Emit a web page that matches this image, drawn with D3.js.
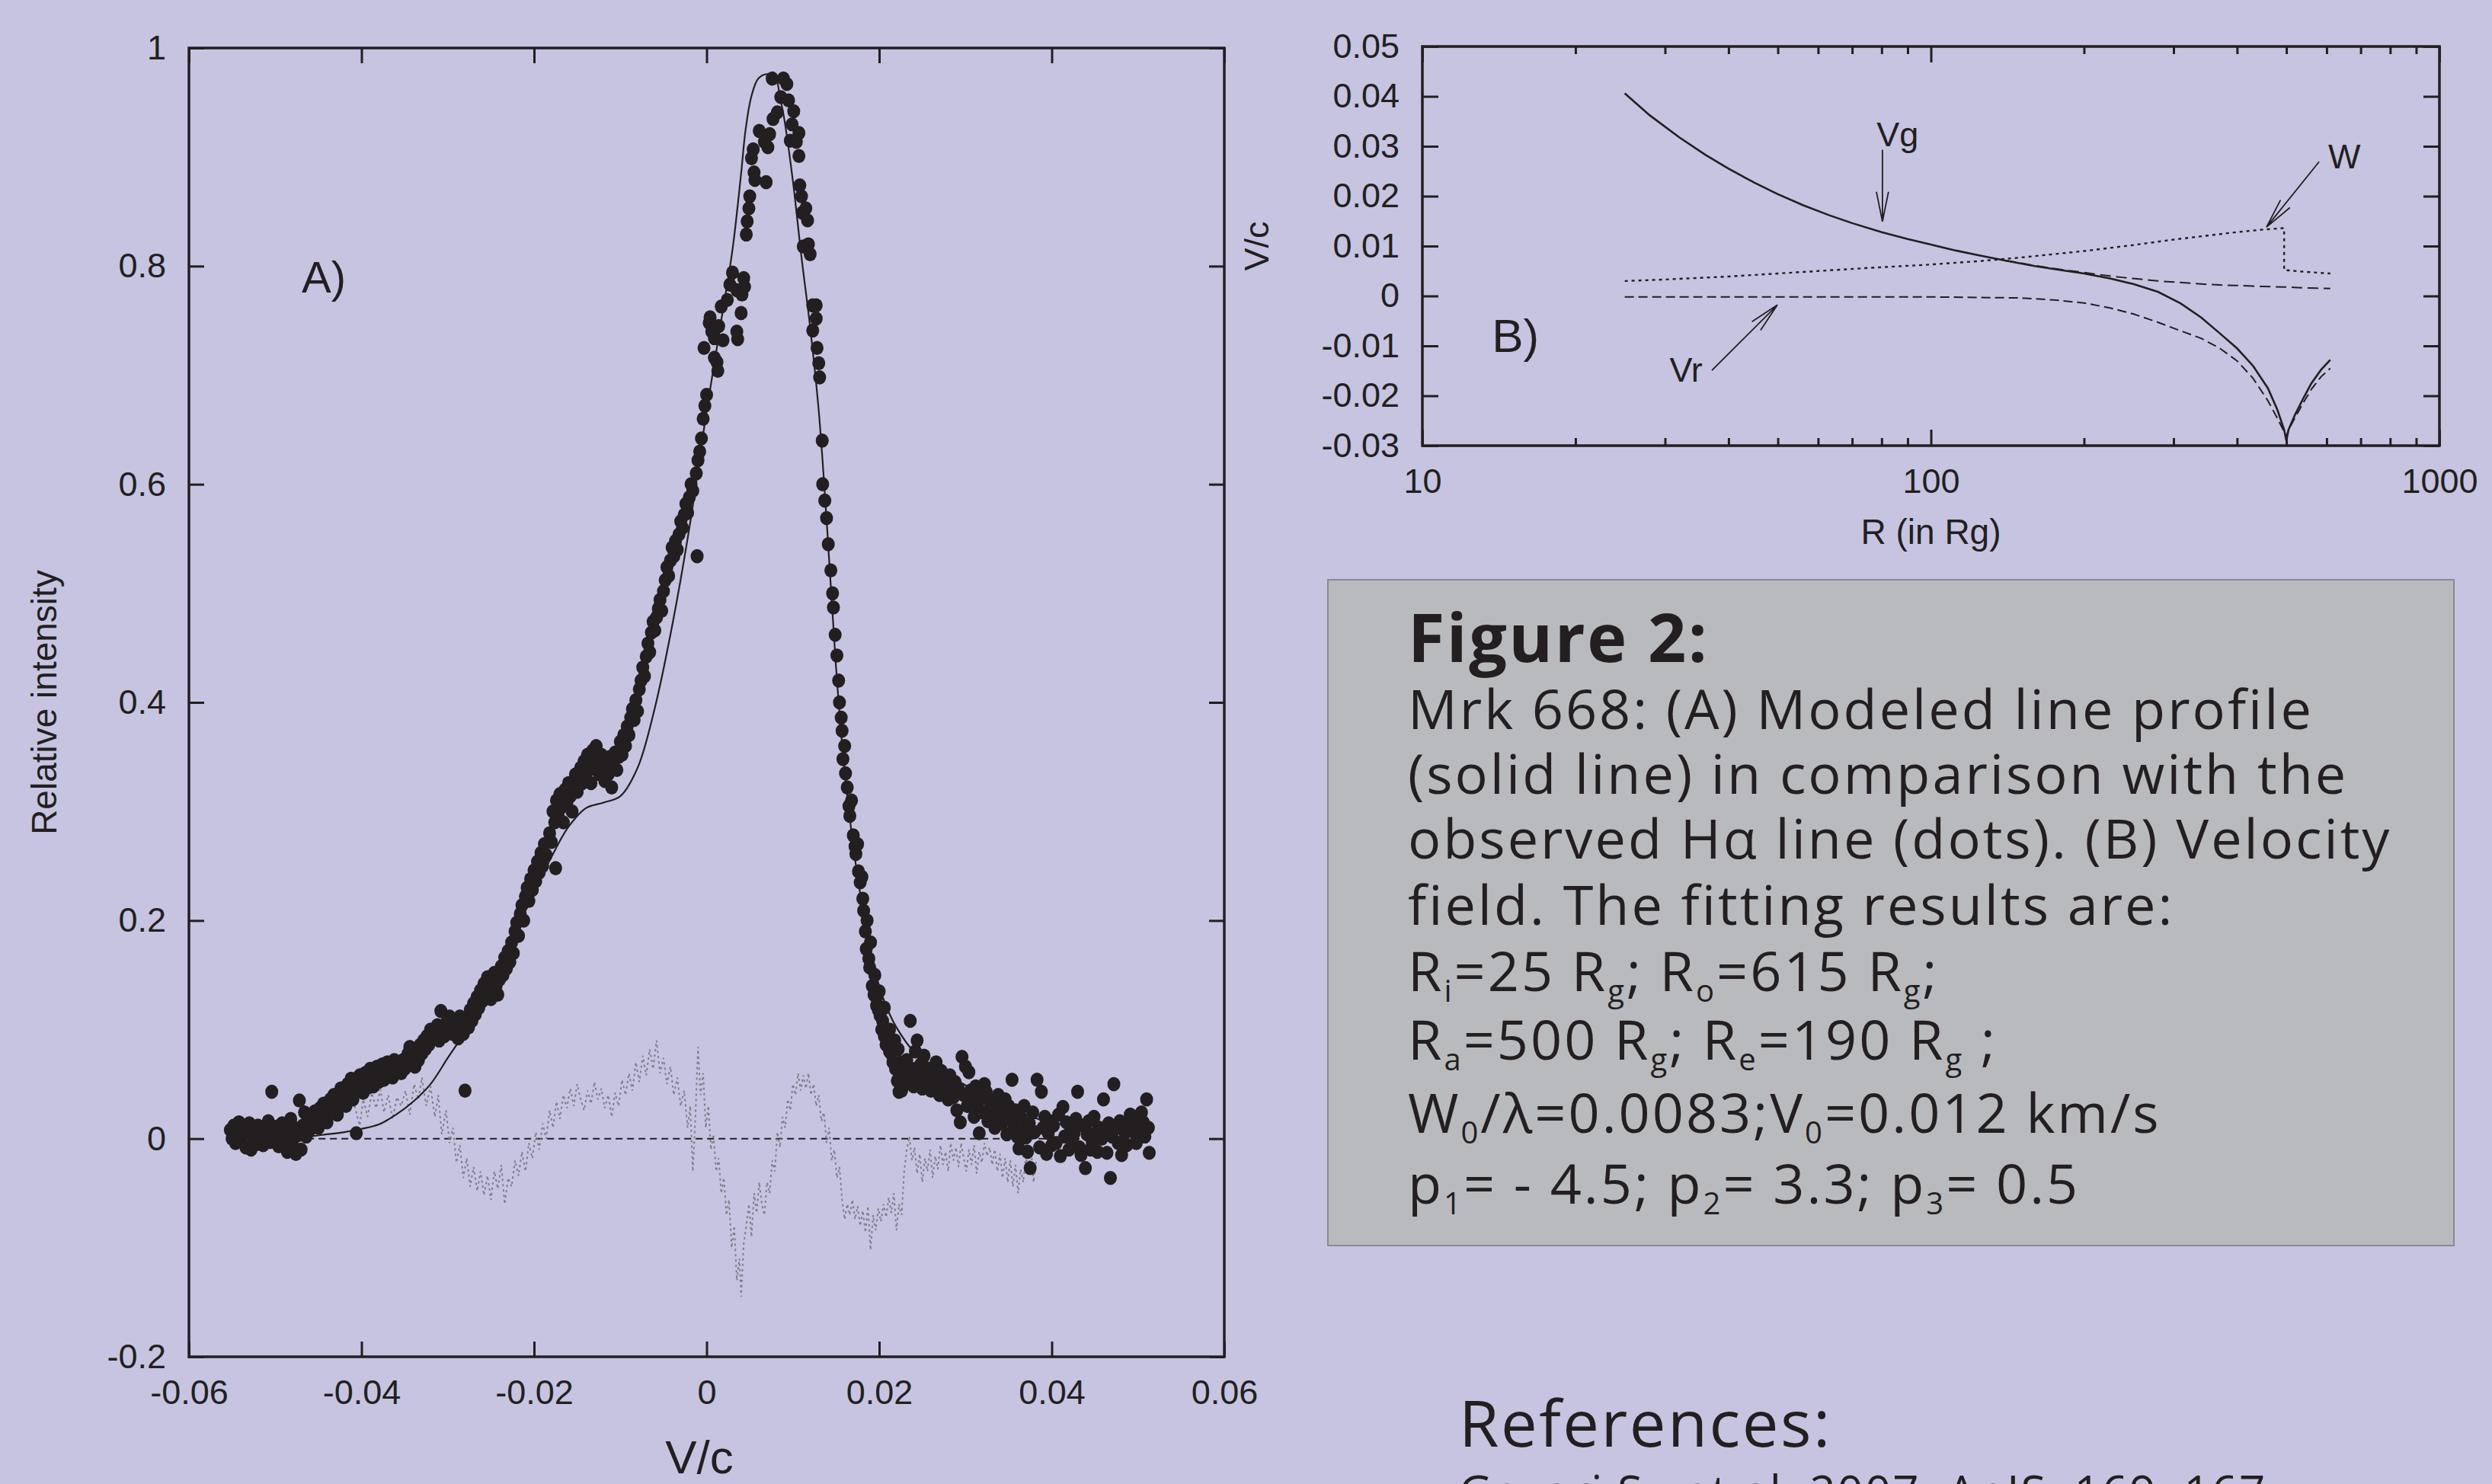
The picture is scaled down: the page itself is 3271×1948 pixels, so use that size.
<!DOCTYPE html>
<html><head><meta charset="utf-8">
<script src="https://cdn.jsdelivr.net/npm/d3@7"></script>
<style>html,body{margin:0;padding:0;background:#c6c4e1;} svg{display:block}</style>
</head><body>
<script>
// ---------------- DATA ----------------
// Panel A: observed H-alpha profile (dots): [V/c, relative intensity]
const obsPoints = [
[-0.0552,0.008],[-0.0550,0.000],[-0.0548,0.012],[-0.0546,-0.004],[-0.0544,0.006],[-0.0542,0.015],[-0.0540,-0.002],[-0.0538,0.003],[-0.0536,0.010],[-0.0534,-0.008],
[-0.0532,0.005],[-0.0530,0.014],[-0.0528,-0.010],[-0.0526,0.002],[-0.0524,0.008],[-0.0522,-0.005],[-0.0520,0.012],[-0.0518,0.000],[-0.0516,0.006],[-0.0514,-0.006],
[-0.0512,0.010],[-0.0510,0.003],[-0.0508,0.016],[-0.0506,-0.003],[-0.0504,0.043],[-0.0502,0.008],[-0.0500,0.001],[-0.0498,0.011],[-0.0496,-0.007],[-0.0494,0.005],
[-0.0492,0.014],[-0.0490,-0.002],[-0.0488,0.008],[-0.0486,-0.012],[-0.0484,0.004],[-0.0482,0.018],[-0.0480,-0.006],[-0.0478,0.010],[-0.0476,-0.014],[-0.0474,0.003],
[-0.0472,0.035],[-0.0470,-0.010],[-0.0468,0.012],[-0.0466,0.024],[-0.0464,0.002],[-0.0462,0.015],[-0.0460,0.008],[-0.0458,0.020],[-0.0456,0.012],[-0.0454,0.025],
[-0.0452,0.018],[-0.0450,0.010],[-0.0448,0.028],[-0.0446,0.020],[-0.0444,0.032],[-0.0442,0.024],[-0.0440,0.015],[-0.0438,0.030],[-0.0436,0.036],[-0.0434,0.026],
[-0.0432,0.040],[-0.0430,0.033],[-0.0428,0.022],[-0.0426,0.038],[-0.0424,0.046],[-0.0422,0.035],[-0.0420,0.043],[-0.0418,0.030],[-0.0416,0.050],[-0.0414,0.040],
[-0.0412,0.055],[-0.0410,0.036],[-0.0408,0.048],[-0.0406,0.005],[-0.0404,0.045],[-0.0402,0.058],[-0.0400,0.050],[-0.0398,0.042],[-0.0396,0.060],[-0.0394,0.052],
[-0.0392,0.047],[-0.0390,0.064],[-0.0388,0.055],[-0.0386,0.048],[-0.0384,0.060],[-0.0382,0.066],[-0.0380,0.052],[-0.0378,0.058],[-0.0376,0.068],[-0.0374,0.054],
[-0.0372,0.062],[-0.0370,0.070],[-0.0368,0.058],[-0.0366,0.064],[-0.0364,0.056],[-0.0362,0.072],[-0.0360,0.062],[-0.0356,0.066],[-0.0354,0.060],[-0.0352,0.072],
[-0.0350,0.064],[-0.0348,0.070],[-0.0346,0.078],[-0.0344,0.084],[-0.0342,0.068],[-0.0340,0.074],[-0.0338,0.066],[-0.0336,0.080],[-0.0334,0.072],[-0.0332,0.086],
[-0.0330,0.078],[-0.0328,0.090],[-0.0326,0.082],[-0.0324,0.094],[-0.0322,0.086],[-0.0320,0.100],[-0.0318,0.092],[-0.0314,0.098],[-0.0312,0.104],[-0.0310,0.090],
[-0.0308,0.117],[-0.0306,0.100],[-0.0304,0.094],[-0.0302,0.106],[-0.0300,0.098],[-0.0298,0.112],[-0.0296,0.104],[-0.0294,0.096],[-0.0292,0.108],[-0.0290,0.100],
[-0.0288,0.092],[-0.0286,0.112],[-0.0284,0.104],[-0.0282,0.096],[-0.0280,0.044],[-0.0278,0.110],[-0.0276,0.102],[-0.0274,0.118],[-0.0272,0.108],[-0.0270,0.124],
[-0.0268,0.114],[-0.0266,0.130],[-0.0264,0.120],[-0.0262,0.136],[-0.0260,0.126],[-0.0258,0.142],[-0.0256,0.132],[-0.0254,0.148],[-0.0252,0.136],[-0.0250,0.128],
[-0.0248,0.144],[-0.0246,0.152],[-0.0244,0.140],[-0.0242,0.132],[-0.0240,0.146],[-0.0238,0.158],[-0.0236,0.150],[-0.0234,0.166],[-0.0232,0.156],[-0.0230,0.172],
[-0.0228,0.162],[-0.0226,0.180],[-0.0224,0.170],[-0.0222,0.190],[-0.0220,0.198],[-0.0218,0.186],[-0.0216,0.206],[-0.0214,0.214],[-0.0212,0.200],[-0.0210,0.222],
[-0.0208,0.230],[-0.0206,0.218],[-0.0204,0.238],[-0.0202,0.228],[-0.0200,0.246],[-0.0198,0.236],[-0.0196,0.254],[-0.0194,0.244],[-0.0192,0.262],[-0.0190,0.250],
[-0.0188,0.270],[-0.0186,0.260],[-0.0182,0.280],[-0.0180,0.272],[-0.0178,0.300],[-0.0176,0.290],[-0.0175,0.248],[-0.0174,0.310],[-0.0172,0.296],[-0.0170,0.316],
[-0.0168,0.304],[-0.0166,0.290],[-0.0164,0.320],[-0.0162,0.308],[-0.0160,0.326],[-0.0158,0.314],[-0.0156,0.300],[-0.0154,0.322],[-0.0152,0.334],[-0.0150,0.318],
[-0.0148,0.328],[-0.0146,0.340],[-0.0144,0.326],[-0.0142,0.346],[-0.0140,0.334],[-0.0138,0.352],[-0.0136,0.338],[-0.0134,0.326],[-0.0132,0.356],[-0.0130,0.342],
[-0.0128,0.360],[-0.0126,0.348],[-0.0124,0.334],[-0.0122,0.352],[-0.0120,0.340],[-0.0118,0.328],[-0.0116,0.346],[-0.0114,0.334],[-0.0112,0.350],[-0.0110,0.322],
[-0.0108,0.340],[-0.0106,0.354],[-0.0104,0.338],[-0.0102,0.350],[-0.0100,0.364],[-0.0098,0.352],[-0.0096,0.370],[-0.0094,0.360],[-0.0092,0.378],[-0.0090,0.370],
[-0.0088,0.386],[-0.0086,0.394],[-0.0084,0.384],[-0.0082,0.402],[-0.0080,0.392],[-0.0078,0.412],[-0.0076,0.420],[-0.0074,0.432],[-0.0072,0.424],[-0.0070,0.442],
[-0.0068,0.454],[-0.0066,0.446],[-0.0064,0.464],[-0.0062,0.474],[-0.0060,0.466],[-0.0058,0.478],[-0.0056,0.486],[-0.0054,0.494],[-0.0052,0.484],[-0.0050,0.502],
[-0.0048,0.512],[-0.0046,0.524],[-0.0044,0.516],[-0.0042,0.530],[-0.0040,0.542],[-0.0038,0.534],[-0.0036,0.548],[-0.0034,0.540],[-0.0032,0.554],[-0.0030,0.566],
[-0.0028,0.560],[-0.0026,0.572],[-0.0024,0.582],[-0.0022,0.574],[-0.0020,0.588],[-0.0018,0.600],[-0.0016,0.594],[-0.0012,0.610],[-0.0011,0.534],[-0.0010,0.622],
[-0.0008,0.630],[-0.0006,0.642],[-0.0004,0.660],[-0.0003,0.725],[-0.0002,0.672],[0.0000,0.682],
[0.0003,0.748],[0.0004,0.753],[0.0006,0.740],[0.0009,0.734],[0.0009,0.716],[0.0012,0.712],[0.0013,0.704],[0.0014,0.745],[0.0017,0.763],[0.0019,0.732],
[0.0024,0.769],[0.0027,0.783],[0.0030,0.794],[0.0035,0.778],[0.0035,0.740],[0.0036,0.733],[0.0040,0.757],[0.0041,0.774],[0.0043,0.789],[0.0044,0.781],
[0.0046,0.829],[0.0047,0.841],[0.0049,0.853],[0.0050,0.864],[0.0052,0.899],[0.0054,0.907],[0.0055,0.886],[0.0056,0.879],[0.0061,0.924],[0.0067,0.914],
[0.0069,0.877],[0.0071,0.909],[0.0073,0.921],[0.0076,0.972],[0.0077,0.935],[0.0082,0.941],[0.0086,0.955],[0.0089,0.972],[0.0093,0.967],[0.0095,0.952],
[0.0097,0.915],[0.0099,0.930],[0.0101,0.942],[0.0104,0.914],[0.0107,0.922],[0.0107,0.901],[0.0108,0.874],[0.0110,0.864],[0.0111,0.849],[0.0112,0.818],
[0.0115,0.853],[0.0117,0.842],[0.0118,0.820],[0.0120,0.811],[0.0123,0.764],[0.0127,0.764],[0.0127,0.752],[0.0123,0.741],[0.0128,0.725],[0.0130,0.711],
[0.0131,0.698],[0.0134,0.640],[0.01345,0.600],[0.0137,0.585],[0.0139,0.569],[0.0141,0.545],[0.0144,0.521],[0.0146,0.500],[0.0147,0.487],[0.0149,0.462],
[0.0151,0.443],[0.0153,0.420],[0.0154,0.400],[0.0156,0.386],[0.0157,0.374],[0.0158,0.348],[0.0160,0.360],[0.0161,0.335],[0.0163,0.322],[0.0165,0.305],
[0.0166,0.296],[0.0168,0.310],[0.0170,0.278],[0.0172,0.268],[0.0173,0.261],[0.0175,0.270],[0.0176,0.245],[0.0178,0.235],[0.0180,0.240],[0.0181,0.220],
[0.0182,0.209],[0.0184,0.190],[0.0185,0.174],[0.0186,0.200],[0.0188,0.165],[0.0189,0.157],[0.0190,0.180],[0.0192,0.140],[0.0194,0.132],[0.0195,0.150],
[0.0197,0.122],[0.0197,0.129],[0.0199,0.118],[0.0200,0.135],[0.0201,0.113],[0.0203,0.100],[0.0204,0.108],[0.0206,0.094],[0.0206,0.120],[0.0208,0.086],
[0.0210,0.092],[0.0212,0.100],[0.0212,0.080],[0.0214,0.078],[0.0216,0.070],[0.0218,0.090],[0.0219,0.064],[0.0221,0.053],[0.0222,0.082],[0.0223,0.043],
[0.0225,0.070],[0.0226,0.044],[0.0227,0.061],
[0.0228,0.060],[0.0230,0.050],[0.0232,0.072],[0.0234,0.056],[0.0236,0.108],[0.0238,0.064],[0.0240,0.048],[0.0242,0.080],[0.0244,0.090],[0.0246,0.058],
[0.0248,0.068],[0.0250,0.046],[0.0252,0.076],[0.0254,0.054],[0.0256,0.052],[0.0258,0.064],[0.0260,0.044],[0.0262,0.058],[0.0264,0.048],[0.0266,0.070],
[0.0268,0.050],[0.0270,0.040],[0.0272,0.062],[0.0274,0.046],[0.0276,0.054],[0.0278,0.047],[0.0280,0.036],[0.0282,0.058],[0.0284,0.044],[0.0286,0.038],
[0.0288,0.052],[0.0290,0.026],[0.0292,0.046],[0.0294,0.015],[0.0296,0.075],[0.0298,0.040],[0.0300,0.066],[0.0302,0.030],[0.0304,0.061],[0.0306,0.044],
[0.0308,0.036],[0.0310,0.020],[0.0312,0.048],[0.0314,0.030],[0.0316,0.005],[0.0318,0.038],[0.0320,0.024],[0.0322,0.050],[0.0324,0.043],[0.0326,0.016],
[0.0328,0.034],[0.0330,0.026],[0.0332,0.031],[0.0334,0.010],[0.0336,0.020],[0.0338,0.040],[0.0340,0.028],[0.0342,0.014],[0.0344,0.024],[0.0346,0.036],
[0.0348,0.004],[0.0350,0.030],[0.0352,0.018],[0.0354,0.054],[0.0356,0.010],[0.0358,0.026],[0.0360,0.002],[0.0362,-0.009],[0.0364,0.020],[0.0366,0.008],
[0.0368,0.030],[0.0370,0.001],[0.0372,-0.012],[0.0374,0.014],[0.0375,-0.027],[0.0378,0.024],[0.0380,0.006],[0.0383,0.054],[0.0386,-0.008],[0.0388,0.043],
[0.0390,0.010],[0.0392,0.020],[0.0394,-0.014],[0.0396,0.005],[0.0398,0.016],[0.0400,-0.006],[0.0402,0.012],[0.0405,-0.004],[0.0408,0.022],[0.0410,-0.016],
[0.0413,0.029],[0.0415,0.002],[0.0417,0.015],[0.0420,-0.010],[0.0422,0.010],[0.0424,0.000],[0.0426,0.005],[0.0428,0.018],[0.0430,0.043],[0.0432,-0.008],
[0.0434,-0.015],[0.0436,0.012],[0.0439,-0.027],[0.0441,0.004],[0.0443,0.016],[0.0445,-0.010],[0.0447,-0.004],[0.0449,0.020],[0.0451,0.005],[0.0453,-0.012],
[0.0455,0.010],[0.0458,0.000],[0.0460,0.036],[0.0462,0.008],[0.0464,-0.013],[0.0466,0.014],[0.0468,-0.036],[0.0470,0.002],[0.0472,0.050],[0.0474,0.010],
[0.0477,-0.004],[0.0479,0.016],[0.0481,-0.015],[0.0483,0.008],[0.0485,0.005],[0.0487,-0.006],[0.0489,0.012],[0.0491,0.022],[0.0494,0.020],[0.0496,0.006],
[0.0498,-0.004],[0.0500,0.014],[0.0502,0.005],[0.0504,0.024],[0.0506,0.015],[0.0508,0.002],[0.0510,0.036],[0.0512,0.010],[0.0513,-0.013]
];
// Panel A: modeled line profile (solid line)
const modelV = [-0.0480,-0.0460,-0.0440,-0.0420,-0.0400,-0.0380,-0.0360,-0.0340,-0.0320,-0.0300,-0.0280,-0.0260,-0.0240,-0.0220,-0.0200,-0.0180,-0.0160,-0.0140,-0.0120,-0.0100,-0.0080,-0.0060,-0.0040,-0.0020,0.0000,0.0010,0.0020,0.0030,0.0040,0.0045,0.0052,0.0060,0.0070,0.0080,0.0085,0.0090,0.0100,0.0110,0.0120,0.0130,0.0140,0.0150,0.0160,0.0170,0.0180,0.0190,0.0200,0.0210,0.0220,0.0240,0.0260,0.0280,0.0300,0.0320,0.0340,0.0360,0.0380,0.0400,0.0420,0.0440,0.0460,0.0480,0.0500,0.0513];
const modelI = [0.000,0.002,0.004,0.006,0.009,0.013,0.022,0.034,0.050,0.074,0.098,0.127,0.158,0.192,0.226,0.258,0.286,0.303,0.308,0.314,0.340,0.395,0.470,0.560,0.667,0.716,0.765,0.815,0.885,0.924,0.956,0.972,0.976,0.972,0.955,0.935,0.878,0.808,0.744,0.667,0.556,0.432,0.336,0.268,0.215,0.173,0.140,0.118,0.102,0.080,0.068,0.058,0.049,0.040,0.032,0.025,0.019,0.015,0.012,0.010,0.008,0.006,0.005,0.004];
// Panel A: residuals (dotted grey line)
const residPoints = [
[-0.0408,0.030],[-0.0402,0.012],[-0.0398,0.036],[-0.0393,0.020],[-0.0388,0.042],[-0.0383,0.028],[-0.0378,0.045],[-0.0374,0.024],[-0.0369,0.040],[-0.0364,0.018],
[-0.0359,0.038],[-0.0354,0.030],[-0.0349,0.044],[-0.0344,0.022],[-0.0339,0.050],[-0.0334,0.036],[-0.0330,0.056],[-0.0325,0.030],[-0.0320,0.048],[-0.0315,0.020],
[-0.0311,0.040],[-0.0307,0.004],[-0.0302,0.026],[-0.0298,-0.004],[-0.0294,0.010],[-0.0290,-0.022],[-0.0286,-0.006],[-0.0282,-0.036],[-0.0278,-0.018],[-0.0274,-0.044],
[-0.0270,-0.026],[-0.0266,-0.048],[-0.0262,-0.030],[-0.0258,-0.052],[-0.0254,-0.034],[-0.0250,-0.056],[-0.0246,-0.030],[-0.0242,-0.046],[-0.0238,-0.024],[-0.0234,-0.060],
[-0.0230,-0.036],[-0.0226,-0.044],[-0.0222,-0.020],[-0.0218,-0.034],[-0.0214,-0.012],[-0.0210,-0.030],[-0.0206,-0.004],[-0.0202,-0.018],[-0.0198,0.006],[-0.0194,-0.010],
[-0.0190,0.014],[-0.0186,0.000],[-0.0182,0.026],[-0.0178,0.010],[-0.0174,0.034],[-0.0170,0.018],[-0.0166,0.040],[-0.0162,0.028],[-0.0158,0.046],[-0.0154,0.030],
[-0.0150,0.050],[-0.0146,0.036],[-0.0142,0.026],[-0.0138,0.044],[-0.0134,0.032],[-0.0130,0.052],[-0.0126,0.036],[-0.0122,0.046],[-0.0118,0.028],[-0.0114,0.040],
[-0.0110,0.020],[-0.0106,0.042],[-0.0102,0.030],[-0.0098,0.054],[-0.0094,0.040],[-0.0090,0.060],[-0.0086,0.044],[-0.0082,0.070],[-0.0078,0.052],[-0.0074,0.076],
[-0.0070,0.058],[-0.0066,0.082],[-0.0062,0.064],[-0.0058,0.090],[-0.0054,0.060],[-0.0050,0.074],[-0.0046,0.050],[-0.0042,0.066],[-0.0038,0.040],[-0.0034,0.056],
[-0.0030,0.030],[-0.0026,0.044],[-0.0022,0.010],[-0.0019,0.030],[-0.0016,-0.030],[-0.0013,0.020],[-0.0010,0.084],[-0.0007,0.040],[-0.0004,0.060],[-0.0001,0.010],
[0.0002,0.030],[0.0005,-0.010],[0.0008,0.004],[0.0011,-0.030],[0.0014,-0.018],[0.0017,-0.050],[0.0020,-0.036],[0.0023,-0.070],[0.0026,-0.056],[0.0029,-0.100],
[0.0032,-0.080],[0.0035,-0.130],[0.0038,-0.110],[0.0040,-0.145],[0.0043,-0.096],[0.0046,-0.080],[0.0049,-0.060],[0.0052,-0.090],[0.0055,-0.050],[0.0058,-0.068],
[0.0061,-0.040],[0.0064,-0.060],[0.0067,-0.070],[0.0070,-0.040],[0.0073,-0.050],[0.0076,-0.020],[0.0079,-0.030],[0.0082,0.006],[0.0085,-0.008],[0.0088,0.020],
[0.0091,0.010],[0.0094,0.036],[0.0097,0.026],[0.0100,0.050],[0.0103,0.040],[0.0106,0.060],[0.0109,0.044],[0.0112,0.058],[0.0115,0.046],[0.0118,0.060],
[0.0121,0.040],[0.0124,0.050],[0.0127,0.030],[0.0130,0.040],[0.0133,0.016],[0.0136,0.024],[0.0139,-0.004],[0.0142,0.010],[0.0145,-0.020],[0.0148,-0.010],
[0.0151,-0.036],[0.0154,-0.026],[0.0157,-0.056],[0.0160,-0.074],[0.0163,-0.060],[0.0166,-0.070],[0.0169,-0.056],[0.0172,-0.074],[0.0175,-0.062],[0.0178,-0.080],
[0.0181,-0.066],[0.0184,-0.086],[0.0187,-0.062],[0.0190,-0.102],[0.0193,-0.070],[0.0196,-0.084],[0.0199,-0.064],[0.0202,-0.076],[0.0205,-0.060],[0.0208,-0.072],
[0.0211,-0.054],[0.0214,-0.068],[0.0217,-0.050],[0.0220,-0.084],[0.0223,-0.060],[0.0226,-0.070],[0.0229,-0.030],[0.0232,-0.010],[0.0235,0.002],[0.0238,-0.020],
[0.0241,-0.008],[0.0244,-0.032],[0.0247,-0.014],[0.0250,-0.040],[0.0253,-0.018],[0.0256,-0.030],[0.0259,-0.010],[0.0262,-0.036],[0.0265,-0.016],[0.0268,-0.028],
[0.0271,-0.006],[0.0274,-0.024],[0.0277,-0.012],[0.0280,-0.030],[0.0283,-0.004],[0.0286,-0.020],[0.0289,-0.008],[0.0292,-0.026],[0.0295,-0.004],[0.0298,-0.018],
[0.0301,-0.030],[0.0304,-0.010],[0.0307,-0.024],[0.0310,-0.006],[0.0313,-0.032],[0.0316,-0.012],[0.0319,-0.022],[0.0322,-0.004],[0.0325,-0.016],[0.0328,-0.008],
[0.0331,-0.024],[0.0334,-0.010],[0.0337,-0.030],[0.0340,-0.014],[0.0343,-0.036],[0.0346,-0.018],[0.0349,-0.040],[0.0352,-0.020],[0.0355,-0.044],[0.0358,-0.024],
[0.0361,-0.050],[0.0364,-0.028],[0.0367,-0.040],[0.0370,-0.016],[0.0373,-0.030],[0.0376,-0.010],[0.0379,-0.040],[0.0382,-0.020]
];
const zeroLineV = [-0.0463, 0.0513];
const xTicksA = [-0.06,-0.04,-0.02,0,0.02,0.04,0.06];
const xTickLabelsA = ["-0.06","-0.04","-0.02","0","0.02","0.04","0.06"];
const yTicksA = [-0.2,0,0.2,0.4,0.6,0.8,1];
const yTickLabelsA = ["-0.2","0","0.2","0.4","0.6","0.8","1"];

// Panel B: velocity field vs radius (R in Rg)
const vgR = [25,28,32,36,40,45,50,56,63,70,80,90,100,112,125,140,160,180,200,225,250,280,310,340,370,400,430,460,480,495,500,505,520,540,560,585,610];
const vgV = [0.0406,0.0362,0.0318,0.0283,0.0255,0.0227,0.0204,0.0182,0.0162,0.0146,0.0128,0.0114,0.0103,0.0091,0.0081,0.0071,0.0060,0.0052,0.0045,0.0035,0.0024,0.0008,-0.0015,-0.0043,-0.0075,-0.0105,-0.0140,-0.0185,-0.0228,-0.0268,-0.0290,-0.0268,-0.0238,-0.0205,-0.0175,-0.0148,-0.0128];
const vrR = [25,40,60,80,100,125,150,175,200,225,250,280,310,340,370,400,430,460,480,495,500,505,520,540,560,585,610];
const vrV = [-0.0002,-0.0002,-0.0002,-0.0002,-0.0002,-0.0003,-0.0004,-0.0008,-0.0014,-0.0024,-0.0036,-0.0053,-0.0070,-0.0085,-0.0105,-0.0130,-0.0165,-0.0210,-0.0245,-0.0272,-0.0282,-0.0268,-0.0244,-0.0214,-0.0187,-0.0162,-0.0145];
const vkR = [140,160,180,200,225,250,280,310,340,370,400,450,500,550,610];
const vkV = [0.0071,0.0061,0.0053,0.0047,0.0040,0.0035,0.0030,0.0027,0.0024,0.0022,0.0021,0.0019,0.0018,0.0016,0.0015];
const wR = [25,30,40,50,60,75,100,125,150,200,250,300,350,400,450,495,495,550,610];
const wV = [0.0030,0.0033,0.0039,0.0045,0.0050,0.0056,0.0063,0.0070,0.0077,0.0090,0.0102,0.0113,0.0121,0.0128,0.0133,0.0136,0.0052,0.0048,0.0045];
const xMajorB = [10,100,1000];
const xMajorLabelsB = ["10","100","1000"];
const xMinorB = [20,30,40,50,60,70,80,90,200,300,400,500,600,700,800,900];
const yTicksB = [-0.03,-0.02,-0.01,0,0.01,0.02,0.03,0.04,0.05];
const yTickLabelsB = ["-0.03","-0.02","-0.01","0","0.01","0.02","0.03","0.04","0.05"];
// Panel B annotations: [label, textR, textV, arrowStartR, arrowStartV, arrowTipR, arrowTipV]
const annotB = [
  ["Vg", 86, 0.0300, 80.3, 0.0293, 80.3, 0.0149],
  ["W", 650, 0.0256, 580, 0.0269, 457, 0.0138],
  ["Vr", 33, -0.0172, 37.1, -0.0149, 49.9, -0.0018]
];

// Caption
const captionTitle = "Figure 2:";
const captionLines = [
  [["Mrk 668: (A) Modeled line profile",0]],
  [["(solid line) in comparison with the",0]],
  [["observed H\u03b1 line (dots). (B) Velocity",0]],
  [["field. The fitting results are:",0]],
  [["R",0],["i",1],["=25 R",0],["g",1],["; R",0],["o",1],["=615 R",0],["g",1],[";",0]],
  [["R",0],["a",1],["=500 R",0],["g",1],["; R",0],["e",1],["=190 R",0],["g",1],[" ;",0]],
  [["W",0],["0",1],["/\u03bb=0.0083;V",0],["0",1],["=0.012 km/s",0]],
  [["p",0],["1",1],["= - 4.5; p",0],["2",1],["= 3.3; p",0],["3",1],["= 0.5",0]]
];
const refTitle = "References:";
const refLine = "Gezari S., et al. 2007, ApJS, 169, 167";

// ---------------- DRAWING ----------------
const W = 3271, H = 1948;
const ink = "#231f20";
const bg = "#c6c4e1";
const tickFont = "'Liberation Sans', Arial, Helvetica, sans-serif";
const svg = d3.select("body").append("svg").attr("width", W).attr("height", H);
svg.append("rect").attr("width", W).attr("height", H).attr("fill", bg);

// ---- Panel A ----
const A = {l:248, r:1607, t:63, b:1781};
const xA = d3.scaleLinear().domain([-0.06,0.06]).range([A.l,A.r]);
const yA = d3.scaleLinear().domain([-0.2,1]).range([A.b,A.t]);
const gA = svg.append("g");

function styleAxis(g, size){
  g.select(".domain").remove();
  g.selectAll(".tick line").attr("stroke", ink).attr("stroke-width", 3);
  g.selectAll(".tick text").attr("fill", ink).attr("font-family", tickFont).attr("font-size", size);
}
const axA_b = gA.append("g").attr("transform",`translate(0,${A.b})`)
  .call(d3.axisBottom(xA).tickValues(xTicksA).tickSize(-20).tickPadding(30).tickFormat((d,i)=>xTickLabelsA[i]));
styleAxis(axA_b, 45);
const axA_t = gA.append("g").attr("transform",`translate(0,${A.t})`)
  .call(d3.axisTop(xA).tickValues(xTicksA).tickSize(-20).tickFormat(""));
styleAxis(axA_t, 45);
const axA_l = gA.append("g").attr("transform",`translate(${A.l},0)`)
  .call(d3.axisLeft(yA).tickValues(yTicksA).tickSize(-20).tickPadding(30).tickFormat((d,i)=>yTickLabelsA[i]));
styleAxis(axA_l, 45);
const axA_r = gA.append("g").attr("transform",`translate(${A.r},0)`)
  .call(d3.axisRight(yA).tickValues(yTicksA).tickSize(-20).tickFormat(""));
styleAxis(axA_r, 45);
gA.append("rect").attr("x",A.l).attr("y",A.t).attr("width",A.r-A.l).attr("height",A.b-A.t)
  .attr("fill","none").attr("stroke",ink).attr("stroke-width",3.5);

// zero dashed line
gA.append("line").attr("x1",xA(zeroLineV[0])).attr("x2",xA(zeroLineV[1])).attr("y1",yA(0)).attr("y2",yA(0))
  .attr("stroke",ink).attr("stroke-width",2).attr("stroke-dasharray","9,6");
// residual dotted line
gA.append("path").datum(residPoints)
  .attr("d", d3.line().x(d=>xA(d[0])).y(d=>yA(d[1])))
  .attr("fill","none").attr("stroke","#807e8c").attr("stroke-width",2).attr("stroke-dasharray","3,4");
// dots
gA.append("g").selectAll("ellipse").data(obsPoints).join("ellipse")
  .attr("cx",d=>xA(d[0])).attr("cy",d=>yA(d[1])).attr("rx",8.5).attr("ry",9.3).attr("fill",ink);
// model line
gA.append("path").datum(d3.zip(modelV, modelI))
  .attr("d", d3.line().x(d=>xA(d[0])).y(d=>yA(d[1])).curve(d3.curveCatmullRom.alpha(0.5)))
  .attr("fill","none").attr("stroke",ink).attr("stroke-width",2.2);

// labels A
gA.append("text").attr("transform",`translate(74,${(A.t+A.b)/2}) rotate(-90)`).attr("text-anchor","middle")
  .attr("font-family",tickFont).attr("font-size",46).attr("fill",ink).text("Relative intensity");
gA.append("text").attr("x",918).attr("y",1934).attr("text-anchor","middle")
  .attr("font-family",tickFont).attr("font-size",62).attr("fill",ink).text("V/c");
gA.append("text").attr("x",396).attr("y",384)
  .attr("font-family",tickFont).attr("font-size",58).attr("fill",ink).text("A)");

// ---- Panel B ----
const B = {l:1867, r:3202, t:61, b:585};
const xB = d3.scaleLog().domain([10,1000]).range([B.l,B.r]);
const yB = d3.scaleLinear().domain([-0.03,0.05]).range([B.b,B.t]);
const gB = svg.append("g");
const axB_b = gB.append("g").attr("transform",`translate(0,${B.b})`)
  .call(d3.axisBottom(xB).tickValues(xMajorB).tickSize(-21).tickPadding(30).tickFormat((d,i)=>xMajorLabelsB[i]));
styleAxis(axB_b, 45);
const axB_bm = gB.append("g").attr("transform",`translate(0,${B.b})`)
  .call(d3.axisBottom(xB).tickValues(xMinorB).tickSize(-10).tickFormat(""));
styleAxis(axB_bm, 45);
const axB_t = gB.append("g").attr("transform",`translate(0,${B.t})`)
  .call(d3.axisTop(xB).tickValues(xMajorB).tickSize(-21).tickFormat(""));
styleAxis(axB_t, 45);
const axB_tm = gB.append("g").attr("transform",`translate(0,${B.t})`)
  .call(d3.axisTop(xB).tickValues(xMinorB).tickSize(-10).tickFormat(""));
styleAxis(axB_tm, 45);
const axB_l = gB.append("g").attr("transform",`translate(${B.l},0)`)
  .call(d3.axisLeft(yB).tickValues(yTicksB).tickSize(-21).tickPadding(30).tickFormat((d,i)=>yTickLabelsB[i]));
styleAxis(axB_l, 45);
const axB_r = gB.append("g").attr("transform",`translate(${B.r},0)`)
  .call(d3.axisRight(yB).tickValues(yTicksB).tickSize(-21).tickFormat(""));
styleAxis(axB_r, 45);
gB.append("rect").attr("x",B.l).attr("y",B.t).attr("width",B.r-B.l).attr("height",B.b-B.t)
  .attr("fill","none").attr("stroke",ink).attr("stroke-width",3.5);

const lineB = d3.line().x(d=>xB(d[0])).y(d=>yB(d[1]));
gB.append("path").datum(d3.zip(vkR,vkV)).attr("d",lineB.curve(d3.curveCatmullRom))
  .attr("fill","none").attr("stroke",ink).attr("stroke-width",2).attr("stroke-dasharray","14,7");
gB.append("path").datum(d3.zip(vrR,vrV)).attr("d",lineB.curve(d3.curveLinear))
  .attr("fill","none").attr("stroke",ink).attr("stroke-width",2).attr("stroke-dasharray","12,6");
gB.append("path").datum(d3.zip(wR,wV)).attr("d",lineB.curve(d3.curveLinear))
  .attr("fill","none").attr("stroke",ink).attr("stroke-width",2.4).attr("stroke-dasharray","4,5");
gB.append("path").datum(d3.zip(vgR,vgV)).attr("d",lineB.curve(d3.curveLinear))
  .attr("fill","none").attr("stroke",ink).attr("stroke-width",2.6);

// annotations with arrows
annotB.forEach(a=>{
  const [lab, tR, tV, sR, sV, eR, eV] = a;
  gB.append("text").attr("x",xB(tR)).attr("y",yB(tV)).attr("text-anchor","middle")
    .attr("font-family",tickFont).attr("font-size",45).attr("fill",ink).text(lab);
  const x1=xB(sR), y1=yB(sV), x2=xB(eR), y2=yB(eV);
  const ang=Math.atan2(y2-y1,x2-x1), L=40, sp=0.2;
  const p = d3.path();
  p.moveTo(x1,y1); p.lineTo(x2,y2);
  p.moveTo(x2-L*Math.cos(ang-sp), y2-L*Math.sin(ang-sp)); p.lineTo(x2,y2);
  p.lineTo(x2-L*Math.cos(ang+sp), y2-L*Math.sin(ang+sp));
  gB.append("path").attr("d",p.toString()).attr("fill","none").attr("stroke",ink).attr("stroke-width",1.8);
});
gB.append("text").attr("x",xB(13.7)).attr("y",yB(-0.0112))
  .attr("font-family",tickFont).attr("font-size",62).attr("fill",ink).text("B)");
gB.append("text").attr("transform",`translate(1665,${(B.t+B.b)/2}) rotate(-90)`).attr("text-anchor","middle")
  .attr("font-family",tickFont).attr("font-size",45).attr("fill",ink).text("V/c");
gB.append("text").attr("x",(B.l+B.r)/2).attr("y",714).attr("text-anchor","middle")
  .attr("font-family",tickFont).attr("font-size",46).attr("fill",ink).text("R (in Rg)");

// ---- Caption box ----
const capFont = "'Open Sans', 'Noto Sans', sans-serif";
svg.append("rect").attr("x",1743).attr("y",761).attr("width",1478).attr("height",874)
  .attr("fill","#b9babe").attr("stroke","#8a8a90").attr("stroke-width",2);
svg.append("text").attr("x",1848).attr("y",869).attr("font-family",capFont).attr("font-weight",700)
  .attr("font-size",88).attr("letter-spacing",2.5).attr("fill",ink).text(captionTitle);
const baselines = [957,1042,1127,1214,1301,1391,1487,1580];
captionLines.forEach((segs,i)=>{
  const t = svg.append("text").attr("x",1848).attr("y",baselines[i]).attr("font-family",capFont)
    .attr("font-size",72).attr("letter-spacing",3).attr("fill",ink);
  let shifted=false;
  segs.forEach(s=>{
    const ts = t.append("tspan").text(s[0]);
    if(s[1]){ ts.attr("font-size",40).attr("dy", shifted?0:14); shifted=true; }
    else { if(shifted){ ts.attr("dy",-14); shifted=false; } }
  });
});
svg.append("text").attr("x",1915).attr("y",1899).attr("font-family",capFont)
  .attr("font-size",85).attr("letter-spacing",2.5).attr("fill",ink).text(refTitle);
svg.append("text").attr("x",1915).attr("y",1980).attr("font-family",capFont)
  .attr("font-size",60).attr("letter-spacing",2).attr("fill",ink).text(refLine);
</script>
</body></html>
